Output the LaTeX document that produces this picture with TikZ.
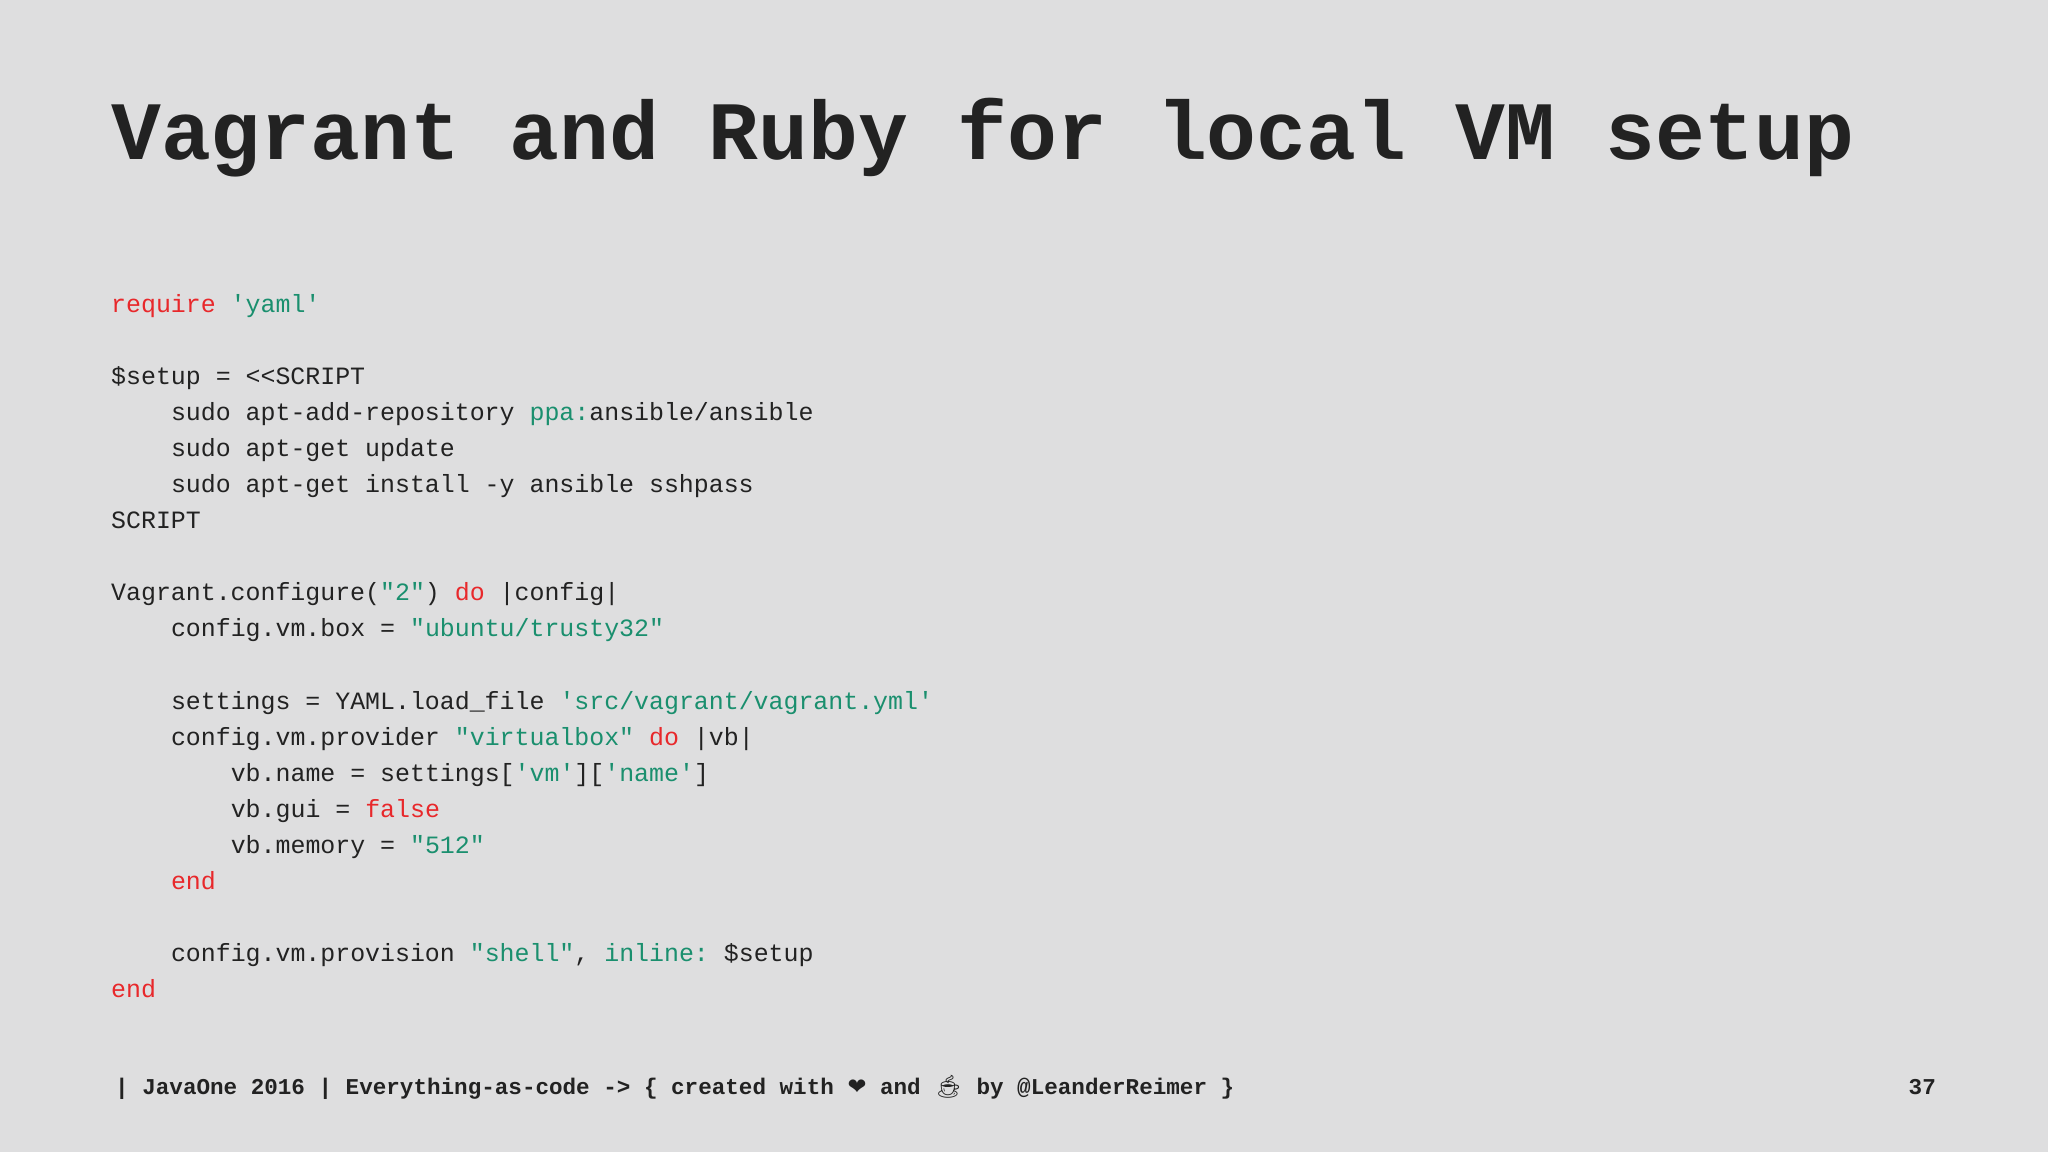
\documentclass[tikz,border=0pt]{standalone}
\usepackage{fontspec}
\setmonofont{Liberation Mono}
\newfontfamily\symf{DejaVu Sans}
\newfontfamily\emof{Noto Emoji}
\definecolor{bg}{HTML}{DEDEDF}
\definecolor{ink}{HTML}{222222}
\definecolor{kred}{HTML}{E8282B}
\definecolor{kgrn}{HTML}{1A8F6E}
\newcommand{\R}[1]{\textcolor{kred}{#1}}
\newcommand{\G}[1]{\textcolor{kgrn}{#1}}
\tikzset{codeline/.style={anchor=base west,inner sep=0pt,text=ink,font=\ttfamily\fontsize{24.9}{30}\selectfont}}
\begin{document}
\begin{tikzpicture}[x=1pt,y=-1pt]
\fill[bg] (0,0) rectangle (2048,1152);
\useasboundingbox (0,0) rectangle (2048,1152);
\node[anchor=base west,inner sep=0pt,text=ink,font=\ttfamily\bfseries\fontsize{83}{90}\selectfont] (title) at (111,159) {Vagrant and Ruby for local VM setup};
\newcommand{\cl}[3]{\node[codeline] (l#1) at (111,{312+36.1*#1}) {\obeyspaces\hspace*{#2}#3};}
\cl{0}{0pt}{\R{require} \G{'yaml'}}
\cl{2}{0pt}{\$setup = <{}<SCRIPT}
\cl{3}{59.8pt}{sudo apt-add-repository \G{ppa:}ansible/ansible}
\cl{4}{59.8pt}{sudo apt-get update}
\cl{5}{59.8pt}{sudo apt-get install -y ansible sshpass}
\cl{6}{0pt}{SCRIPT}
\cl{8}{0pt}{Vagrant.configure(\G{"2"}) \R{do} |config|}
\cl{9}{59.8pt}{config.vm.box = \G{"ubuntu/trusty32"}}
\cl{11}{59.8pt}{settings = YAML.load\_file \G{'src/vagrant/vagrant.yml'}}
\cl{12}{59.8pt}{config.vm.provider \G{"virtualbox"} \R{do} |vb|}
\cl{13}{119.6pt}{vb.name = settings[\G{'vm'}][\G{'name'}]}
\cl{14}{119.6pt}{vb.gui = \R{false}}
\cl{15}{119.6pt}{vb.memory = \G{"512"}}
\cl{16}{59.8pt}{\R{end}}
\cl{18}{59.8pt}{config.vm.provision \G{"shell"}, \G{inline:} \$setup}
\cl{19}{0pt}{\R{end}}
\node[anchor=base west,inner sep=0pt,text=ink,font=\ttfamily\bfseries\fontsize{22.6}{26}\selectfont] (foot) at (115,1094) {| JavaOne 2016 | Everything-as-code -> \{ created with {\symf ❤} and {\emof ☕} by @LeanderReimer \}};
\node[anchor=base east,inner sep=0pt,text=ink,font=\ttfamily\bfseries\fontsize{22.6}{26}\selectfont] (page) at (1936,1094) {37};
\end{tikzpicture}
\end{document}
